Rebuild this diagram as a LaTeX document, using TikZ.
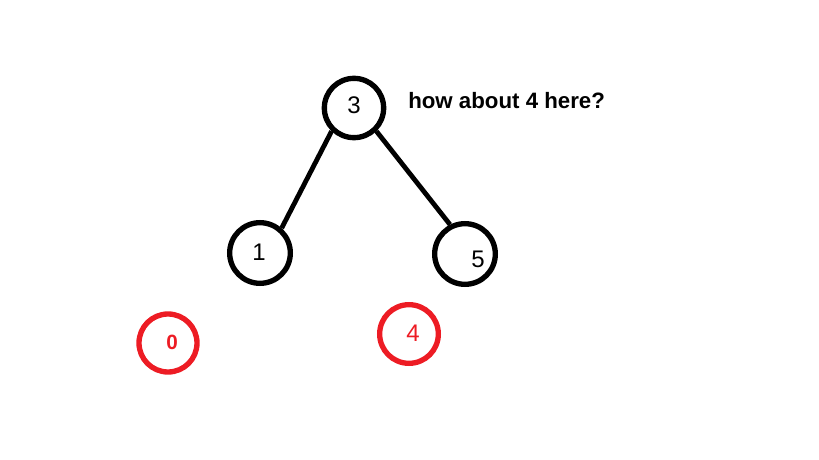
\documentclass[tikz,border=0pt]{standalone}
\usepackage{fontspec}
\setmainfont{Liberation Sans}
\definecolor{paintred}{RGB}{237,28,36}
\tikzset{
  keynode/.style={circle, draw=black, line width=4pt, minimum size=44.5pt, inner sep=0pt},
  newnode/.style={keynode, draw=paintred},
  digit/.style={inner sep=0pt, font=\fontsize{18}{20}\selectfont},
  newdigit/.style={digit, text=paintred},
  edge/.style={line width=3.6pt}
}
\begin{document}
\begin{tikzpicture}[x=0.75pt,y=-0.75pt]
\useasboundingbox (0,0) rectangle (819,460);

% Tree nodes
\node[keynode] (n3) at (354,108) {};
\node[keynode, minimum size=45.5pt] (n1) at (260,253) {};
\node[keynode, minimum size=45.5pt] (n5) at (465,254) {};
\node[digit] (l3) at ([shift={(0,-3)}]n3) {3};
\node[digit] (l1) at ([shift={(-1,-1)}]n1) {1};
\node[digit] (l5) at ([shift={(13,5)}]n5) {5};

% Edges
\draw[edge] (n3.226) -- (n1.49);
\draw[edge] (n3.314) -- (n5.117);

% Candidate positions
\node[newnode, minimum size=43.5pt] (n0) at (168,343) {};
\node[newnode, minimum size=44pt] (n4) at (409,334) {};
\node[newdigit, font=\bfseries\fontsize{15.5}{17}\selectfont] (l0) at ([shift={(4,-1)}]n0) {0};
\node[newdigit] (l4) at ([shift={(4,-1)}]n4) {4};

% Question
\node[anchor=west, inner sep=0pt, font=\bfseries\fontsize{16.7}{19}\selectfont] (q) at (408,101) {how about 4 here?};
\end{tikzpicture}
\end{document}
